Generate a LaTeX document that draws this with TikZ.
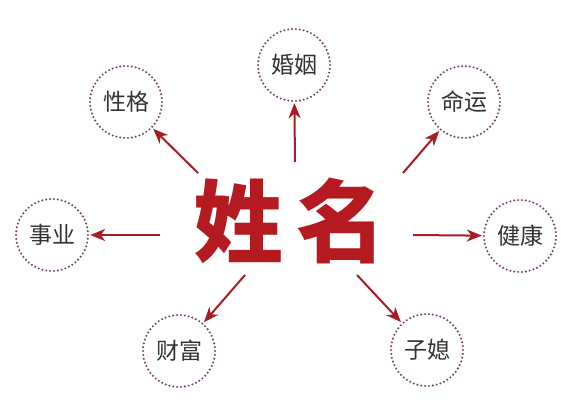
\documentclass[tikz,border=0pt]{standalone}
\usepackage{fontspec}
\usepackage{tikz}
\usetikzlibrary{arrows.meta,calc}
\newfontfamily\cjk{Noto Sans CJK SC}
\definecolor{namered}{HTML}{B41A1F}
\definecolor{arrowred}{HTML}{A61D23}
\definecolor{dotbrown}{HTML}{7A4A4C}
\definecolor{labelgray}{HTML}{333333}
\tikzset{
  aspect/.style={circle,minimum size=72pt,inner sep=0pt,draw=dotbrown,line width=2.3pt,line cap=round,dash pattern=on 0pt off 3.9pt,text=labelgray,font=\cjk\fontsize{23}{23}\selectfont},
  arr/.style={draw=arrowred,line width=2pt,-{Stealth[length=15pt,width=12pt,inset=4.5pt]},shorten >=1pt}
}
\begin{document}
\begin{tikzpicture}[x=1pt,y=-1pt]
\useasboundingbox (0,0) rectangle (585,416);
\node[text=namered,font=\cjk\bfseries\fontsize{90}{90}\selectfont](title)at(290,221){姓\hspace{14pt}名};
% outer circles
\node[aspect](hunyin)at(294,65){婚姻};
\node[aspect](xingge)at(126,102){性格};
\node[aspect](mingyun)at(464,102){命运};
\node[aspect](shiye)at(52,235){事业};
\node[aspect](jiankang)at(520,236){健康};
\node[aspect](caifu)at(179,351){财富};
\node[aspect](zixi)at(427,350){子媳};
% arrow starts
\coordinate(s1)at(295,162);\coordinate(s2)at(198,173);\coordinate(s3)at(403,173);\coordinate(s4)at(160,235);
\coordinate(s5)at(413,235);\coordinate(s6)at(245,275);\coordinate(s7)at(357,275);
\draw[arr](s1)--(hunyin);\draw[arr](s2)--(xingge);\draw[arr](s3)--(mingyun);\draw[arr](s4)--(shiye);
\draw[arr](s5)--(jiankang);\draw[arr](s6)--(caifu);\draw[arr](s7)--(zixi);
\end{tikzpicture}
\end{document}
